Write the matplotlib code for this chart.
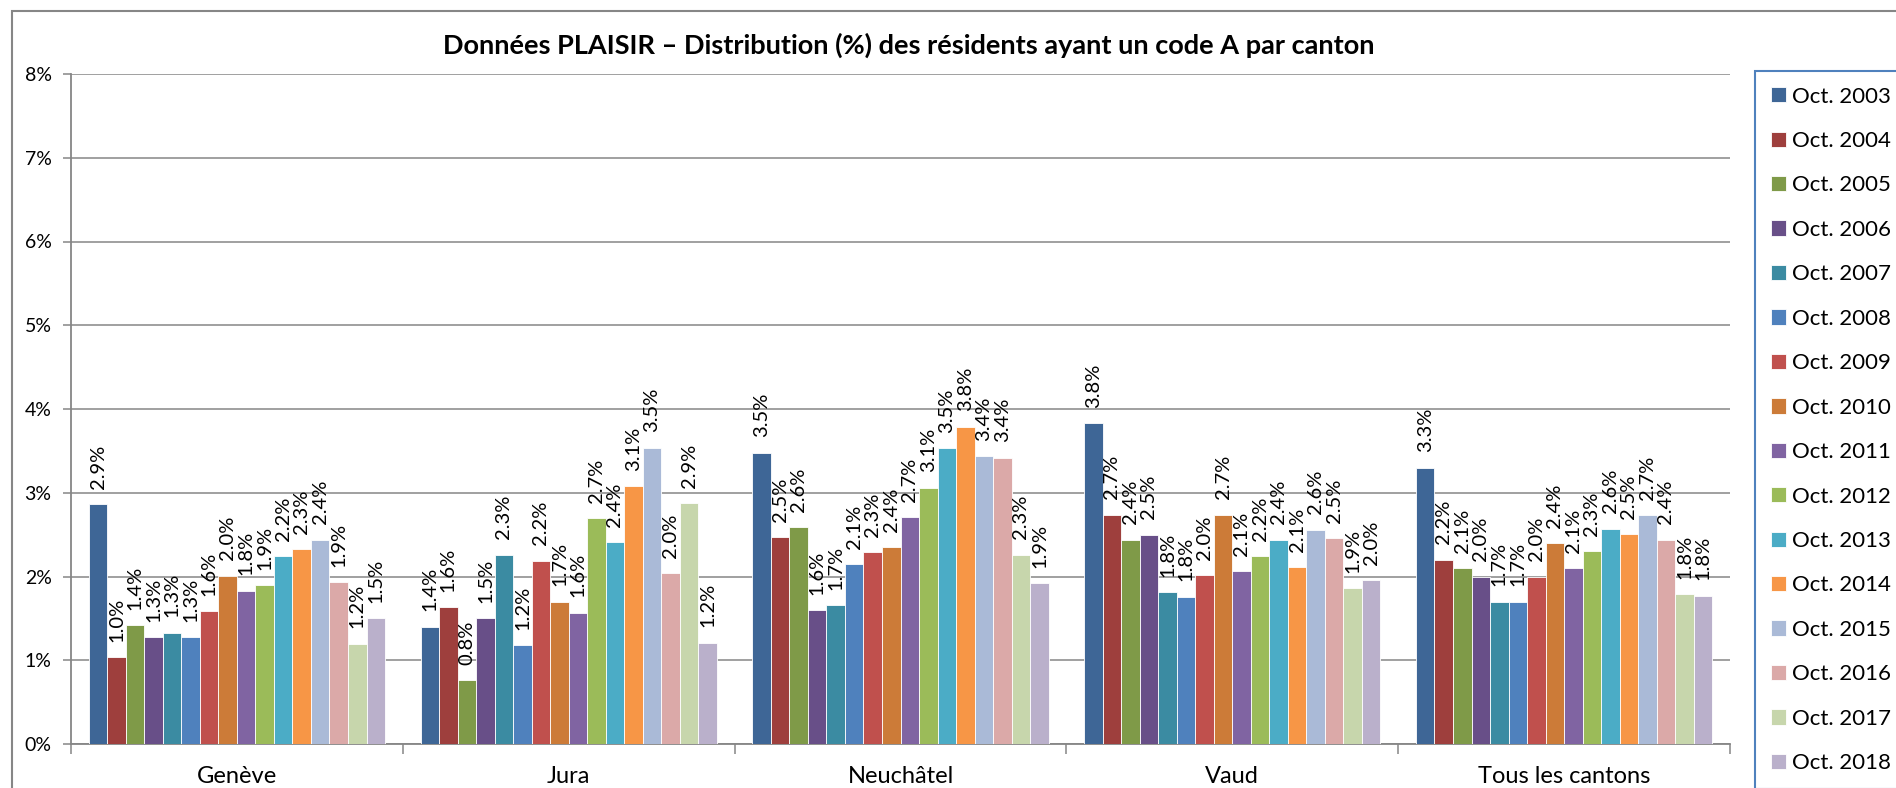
import matplotlib.pyplot as plt
import numpy as np
from matplotlib.patches import Rectangle
from matplotlib.ticker import FuncFormatter

# Données PLAISIR : % des résidents ayant un code A, par canton et par année
cantons = ["Genève", "Jura", "Neuchâtel", "Vaud", "Tous les cantons"]
annees = ["Oct. %d" % a for a in range(2003, 2019)]

geneve = [2.86, 1.04, 1.42, 1.28, 1.33, 1.28, 1.59, 2.01, 1.83, 1.90, 2.24, 2.33, 2.44, 1.93, 1.20, 1.50]
jura = [1.40, 1.63, 0.76, 1.50, 2.26, 1.18, 2.19, 1.70, 1.57, 2.70, 2.41, 3.08, 3.54, 2.04, 2.88, 1.21]
neuchatel = [3.48, 2.47, 2.59, 1.60, 1.66, 2.15, 2.29, 2.35, 2.71, 3.06, 3.53, 3.79, 3.44, 3.42, 2.26, 1.92]
vaud = [3.83, 2.74, 2.44, 2.50, 1.81, 1.76, 2.02, 2.74, 2.06, 2.24, 2.44, 2.11, 2.56, 2.46, 1.86, 1.96]
tous = [3.30, 2.20, 2.10, 2.00, 1.70, 1.70, 2.00, 2.40, 2.10, 2.30, 2.57, 2.51, 2.73, 2.44, 1.79, 1.77]

couleurs = ['#3E6696', '#9E3F3D', '#7F9A48', '#684F88', '#3B8BA2', '#4F81BD',
            '#C0504D', '#CC7B38', '#8064A2', '#9BBB59', '#4BACC6', '#F79646',
            '#AABAD7', '#DBA9A8', '#C7D6AC', '#BAB0CB']

titre = "Données PLAISIR – Distribution (%) des résidents ayant un code A par canton"

W, H = 1896, 788
gris = '#868686'
fig = plt.figure(figsize=(W/100, H/100), dpi=100)

# cadre du graphique (coupé à droite et en bas comme dans l'original)
fig.patches.append(Rectangle((12/W, -0.05), 1.2, 1-11/H+0.05, transform=fig.transFigure,
                             fill=False, edgecolor=gris, linewidth=1.5))

ax = fig.add_axes([71/W, 1-744/H, (1730-71)/W, (744-74)/H])

series = np.array([geneve, jura, neuchatel, vaud, tous]).T
n = len(annees)
occupe = 0.893
larg = occupe/n
x = np.arange(len(cantons))
for i in range(n):
    pos = x - occupe/2 + (i+0.5)*larg
    b = ax.bar(pos, series[i], larg, color=couleurs[i], edgecolor='white',
               linewidth=0.6, label=annees[i], zorder=3)
    ax.bar_label(b, labels=["%.1f%%" % v for v in series[i]], rotation=90,
                 padding=11, fontsize=14.5, family='Lato')

ax.set_ylim(0, 8)
ax.set_xlim(-0.5, len(cantons)-0.5)
ax.set_yticks(range(9))
ax.yaxis.set_major_formatter(FuncFormatter(lambda v, p: "%d%%" % v))
ax.yaxis.grid(True, color=gris, linewidth=1.1)
ax.set_axisbelow(True)

ax.set_xticks(np.arange(-0.5, len(cantons), 1))
ax.set_xticklabels([])
ax.set_xticks(x, minor=True)
ax.set_xticklabels(cantons, minor=True, fontsize=17, family='Lato')
ax.tick_params(axis='x', which='minor', length=0, pad=16)
ax.tick_params(axis='x', which='major', length=7, color=gris, width=1.1)
ax.tick_params(axis='y', length=6, color=gris, width=1.1, pad=8)
for t in ax.get_yticklabels():
    t.set_family('Lato')
    t.set_fontsize(14)

for s in ['top', 'right']:
    ax.spines[s].set_visible(False)
for s in ['left', 'bottom']:
    ax.spines[s].set_color(gris)
    ax.spines[s].set_linewidth(1.3)

fig.text(909/W, 1-45/H, titre, ha='center', va='center',
         fontsize=19.5, fontweight='bold', family='Lato')

leg = fig.legend(loc='upper left', bbox_to_anchor=(1755/W, 1-71/H), borderaxespad=0,
                 fancybox=False, edgecolor='#4F81BD', framealpha=1,
                 handlelength=0.68, handleheight=0.68, handletextpad=0.3,
                 labelspacing=1.1, borderpad=0.7,
                 prop={'family': 'Lato', 'size': 16})
leg.get_frame().set_linewidth(1.5)

fig.savefig('out.png', dpi=100)
